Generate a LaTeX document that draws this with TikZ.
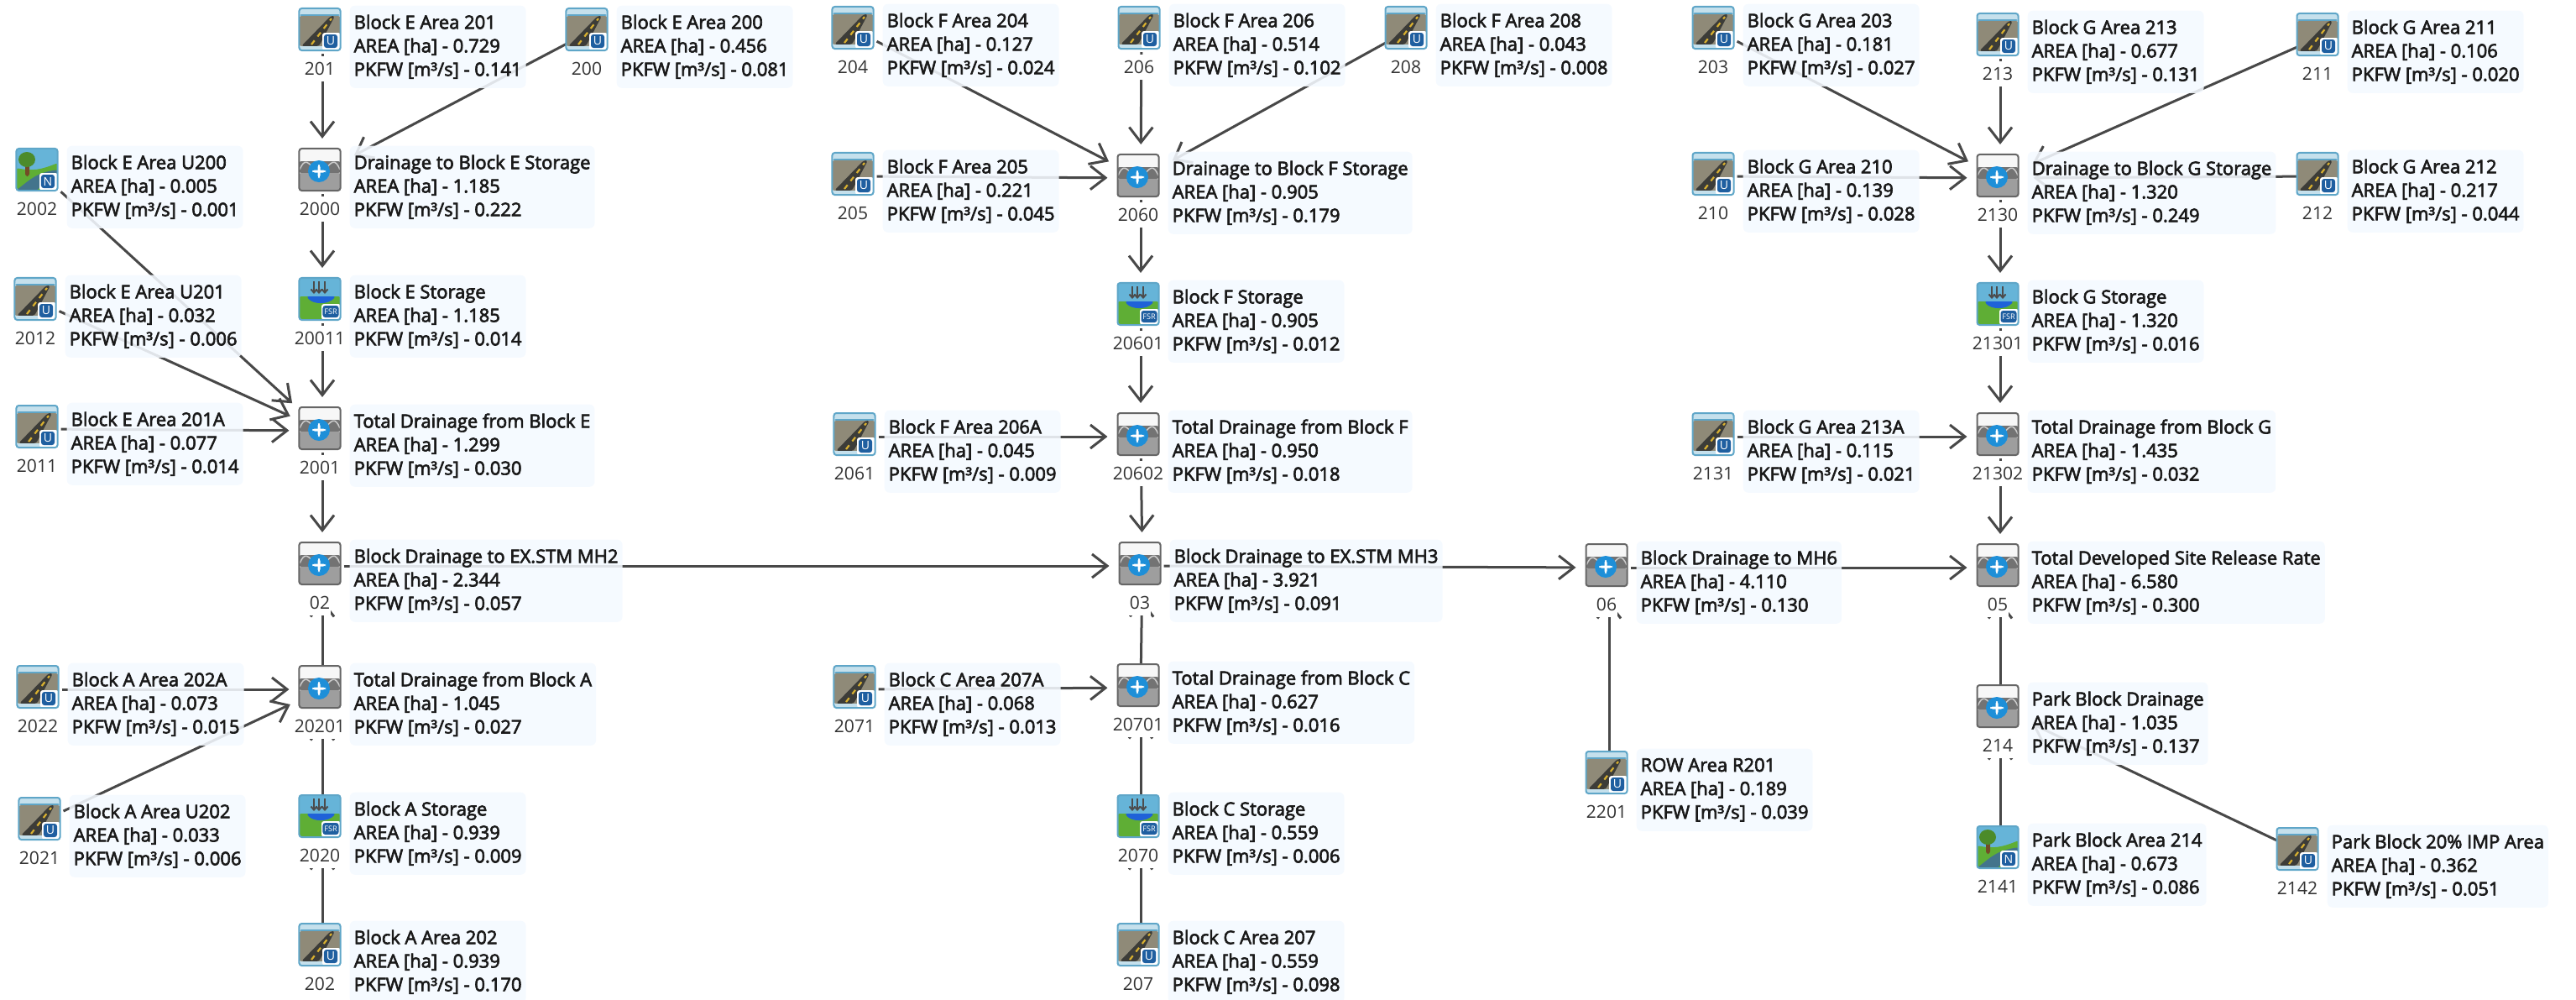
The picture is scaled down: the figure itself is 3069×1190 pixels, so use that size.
\documentclass[tikz,border=0pt]{standalone}
\usepackage{fontspec}
\usepackage{xcolor}
\usepackage{tikz}
\usetikzlibrary{calc, positioning, arrows.meta, backgrounds}
\newfontfamily\blockfont{Open Sans}[FakeBold=3]
\newfontfamily\idfont{Open Sans}

\definecolor{boxblue}{HTML}{F4F9FF}
\definecolor{linegrey}{HTML}{484848}
\definecolor{frameblue}{HTML}{5FA6C8}
\definecolor{badgeblue}{HTML}{1F5FA0}
\definecolor{skyblue}{HTML}{C5E0EC}
\definecolor{roadside}{HTML}{8F8A78}
\definecolor{roadblack}{HTML}{3C3C38}
\definecolor{dashyellow}{HTML}{D8B030}
\definecolor{grassgreen}{HTML}{5FAE35}
\definecolor{waterblue}{HTML}{1F62D8}
\definecolor{pondsky}{HTML}{66B4D8}
\definecolor{plusblue}{HTML}{1E8FD8}

% Picture inside each icon, one pixel of the reference = one unit
\newcommand{\roadart}{
    \fill[skyblue] (-25,-25) rectangle (25,-18);
    \fill[frameblue] (-25,-18) rectangle (25,-16);
    \fill[roadside] (-25,-16) rectangle (25,20);
    \fill[roadblack] (-22,20) -- (13,-16) -- (18,-16) -- (-1,20) -- cycle;
    \draw[dashyellow, line width=0.022cm, dash pattern=on 0.06cm off 0.06cm] (-10,18) -- (14,-13);
    \fill[skyblue] (-25,20) rectangle (25,25);
}
\newcommand{\parkart}{
    \fill[pondsky] (-25,-25) rectangle (25,25);
    \fill[grassgreen] (-25,-2) .. controls (-5,2) and (5,0) .. (25,-8) -- (25,25) -- (-25,25) -- cycle;
    \fill[frameblue!70!black] (-25,25) .. controls (-6,10) and (0,4) .. (25,0) -- (25,6) .. controls (8,10) and (6,18) .. (0,25) -- cycle;
    \fill[brown!60!black] (-14,-8) rectangle (-9,8);
    \fill[grassgreen!80!black] (-12,-12) ellipse (10 and 9);
}
\newcommand{\storeart}{
    \fill[pondsky] (-25,-25) rectangle (25,25);
    \fill[grassgreen] (-25,-3) rectangle (25,25);
    \fill[waterblue] (-16,-3) .. controls (-8,7) and (10,7) .. (19,-3) -- cycle;
    \foreach \dx in {-7,-1,6} {
        \draw[black!70, line width=0.02cm, -{Straight Barb[length=0.04cm, width=0.07cm]}] (\dx,-21) -- (\dx,-6);
    }
}
\newcommand{\junctionart}{
    \fill[black!3] (-25,-25) rectangle (25,-10);
    \fill[black!55] (-25,-10) rectangle (25,4);
    \draw[black!20, line width=0.015cm] (-24,0) .. controls (-18,-14) and (-14,-10) .. (-5,2);
    \draw[black!20, line width=0.015cm] (5,2) .. controls (14,-10) and (18,-14) .. (24,0);
    \fill[black!38] (-25,4) rectangle (25,25);
    \fill[plusblue] (-1,2) circle (13);
    \fill[white] (-9,0.5) rectangle (7,3.5);
    \fill[white] (-2.5,-6) rectangle (0.5,10);
}

\tikzset{
    iconbase/.style={rectangle, rounded corners=0.03cm, minimum width=0.49cm, minimum height=0.50cm, inner sep=0pt, line width=0.02cm},
    road/.style={iconbase, draw=frameblue, fill=white, path picture={
        \begin{scope}[shift=(path picture bounding box.center)]
            \roadart
            \fill[white] (3,4) rectangle (25,25);
            \node[fill=badgeblue, text=white, font=\idfont\fontsize{4}{4}\selectfont, minimum size=0.16cm, inner sep=0pt] at (13,14) {U};
        \end{scope}}},
    park/.style={iconbase, draw=frameblue, fill=white, path picture={
        \begin{scope}[shift=(path picture bounding box.center)]
            \parkart
            \fill[white] (3,4) rectangle (25,25);
            \node[fill=badgeblue, text=white, font=\idfont\fontsize{4}{4}\selectfont, minimum size=0.16cm, inner sep=0pt] at (13,14) {N};
        \end{scope}}},
    store/.style={iconbase, draw=frameblue, fill=white, path picture={
        \begin{scope}[shift=(path picture bounding box.center)]
            \storeart
            \fill[white] (2,6) rectangle (25,25);
            \node[fill=badgeblue, text=white, font=\idfont\fontsize{2.6}{3}\selectfont, minimum width=0.19cm, minimum height=0.14cm, inner sep=0pt] at (13,15) {FSR};
        \end{scope}}},
    junction/.style={iconbase, draw=black!60, fill=white, path picture={
        \begin{scope}[shift=(path picture bounding box.center)]
            \junctionart
        \end{scope}}},
    blockbox/.style={anchor=north west, rectangle, rounded corners=0.06cm, fill=boxblue, fill opacity=0.88, text opacity=1, text=black!90,
        minimum height=0.98cm, inner xsep=0.05cm, inner ysep=0pt, align=left,
        font=\blockfont\fontsize{6.25}{7.97}\selectfont},
    idlabel/.style={rectangle, fill=white, text=black!80, inner xsep=0.01cm, inner ysep=0pt, minimum height=0.30cm,
        font=\idfont\fontsize{6}{7}\selectfont},
    flow/.style={->, linegrey, line width=0.03cm, shorten >=0.14cm, transform canvas={shift={(0.03cm,-0.03cm)}}},
}

\begin{document}
\begin{tikzpicture}[x=0.01cm, y=-0.01cm, >={Straight Barb[length=0.18cm, width=0.28cm]}]
    \useasboundingbox (0,0) rectangle (3069,1190);

    % 1. All blocks: icon, number under it, text box to the right
    \foreach \id/\px/\py/\kind/\title/\area/\pk in {
        201/381/35/road/Block E Area 201/0.729/0.141,
        200/699/35/road/Block E Area 200/0.456/0.081,
        2002/44/202/park/Block E Area U200/0.005/0.001,
        2000/381/202/junction/Drainage to Block E Storage/1.185/0.222,
        2012/42/356/road/Block E Area U201/0.032/0.006,
        20011/381/356/store/Block E Storage/1.185/0.014,
        2011/44/508/road/Block E Area 201A/0.077/0.014,
        2001/381/510/junction/Total Drainage from Block E/1.299/0.030,
        02/381/671/junction/Block Drainage to EX.STM MH2/2.344/0.057,
        2022/45/818/road/Block A Area 202A/0.073/0.015,
        20201/381/818/junction/Total Drainage from Block A/1.045/0.027,
        2021/47/975/road/Block A Area U202/0.033/0.006,
        2020/381/972/store/Block A Storage/0.939/0.009,
        202/381/1125/road/Block A Area 202/0.939/0.170,
        204/1016/33/road/Block F Area 204/0.127/0.024,
        206/1357/33/road/Block F Area 206/0.514/0.102,
        208/1675/33/road/Block F Area 208/0.043/0.008,
        205/1016/207/road/Block F Area 205/0.221/0.045,
        2060/1356/209/junction/Drainage to Block F Storage/0.905/0.179,
        20601/1356/362/store/Block F Storage/0.905/0.012,
        2061/1018/517/road/Block F Area 206A/0.045/0.009,
        20602/1356/517/junction/Total Drainage from Block F/0.950/0.018,
        03/1358/671/junction/Block Drainage to EX.STM MH3/3.921/0.091,
        2071/1018/818/road/Block C Area 207A/0.068/0.013,
        20701/1356/816/junction/Total Drainage from Block C/0.627/0.016,
        2070/1356/972/store/Block C Storage/0.559/0.006,
        207/1356/1125/road/Block C Area 207/0.559/0.098,
        06/1914/673/junction/Block Drainage to MH6/4.110/0.130,
        2201/1914/920/road/ROW Area R201/0.189/0.039,
        203/2041/33/road/Block G Area 203/0.181/0.027,
        213/2380/41/road/Block G Area 213/0.677/0.131,
        211/2761/41/road/Block G Area 211/0.106/0.020,
        210/2041/207/road/Block G Area 210/0.139/0.028,
        2130/2380/209/junction/Drainage to Block G Storage/1.320/0.249,
        212/2761/207/road/Block G Area 212/0.217/0.044,
        21301/2380/362/store/Block G Storage/1.320/0.016,
        2131/2041/517/road/Block G Area 213A/0.115/0.021,
        21302/2380/517/junction/Total Drainage from Block G/1.435/0.032,
        05/2380/673/junction/Total Developed Site Release Rate/6.580/0.300,
        214/2380/841/junction/Park Block Drainage/1.035/0.137,
        2141/2380/1009/park/Park Block Area 214/0.673/0.086,
        2142/2737/1011/road/Park Block 20\% IMP Area/0.362/0.051} {
        \node[\kind] (n\id) at (\px,\py) {};
        \node[idlabel, below=0.05cm of n\id] (l\id) {\id};
        \node[blockbox] (b\id) at (\px+35,\py-29) {\title\\AREA [ha] - \area\\PKFW [m³/s] - \pk};
    }

    % 2. Connectors go behind the boxes and the numbers
    \begin{scope}[on background layer]
        \foreach \from/\to in {201/2000, 200/2000, 2000/20011, 20011/2001, 2002/2001, 2012/2001, 2011/2001, 2001/02,
            02/03, 20201/02, 2022/20201, 2021/20201, 2020/20201, 202/2020,
            204/2060, 206/2060, 208/2060, 205/2060, 2060/20601, 20601/20602, 2061/20602, 20602/03,
            03/06, 20701/03, 2071/20701, 2070/20701, 207/2070, 06/05, 2201/06,
            203/2130, 213/2130, 211/2130, 210/2130, 212/2130, 2130/21301, 21301/21302, 2131/21302, 21302/05,
            214/05, 2141/214, 2142/214} {
            \draw[flow] (n\from) -- (n\to);
        }
    \end{scope}
\end{tikzpicture}
\end{document}
